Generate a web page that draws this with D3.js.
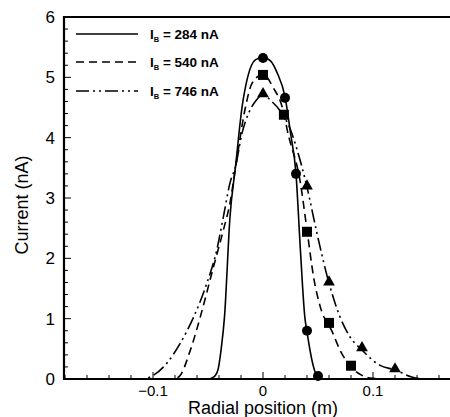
<!DOCTYPE html>
<html>
<head>
<meta charset="utf-8">
<script src="https://cdn.jsdelivr.net/npm/d3@7"></script>
<style>
  body { margin: 0; background: #fff; }
  svg { display: block; font-family: "Liberation Sans", Arial, sans-serif; }
</style>
</head>
<body>
<div class="chart"></div>
<script>
// curve for each beam current (radial position m, current nA)
var curve284 = [[-0.13,0],[-0.05,0],[-0.045,0.03],[-0.041,0.15],[-0.038,0.5],[-0.035,1.03],[-0.03,2.69],
  [-0.025,3.52],[-0.019,4.51],[-0.014,5.0],[-0.007,5.29],[0,5.33],[0.007,5.27],[0.013,5.07],[0.02,4.68],
  [0.025,4.08],[0.03,3.4],[0.034,2.14],[0.038,1.03],[0.04,0.78],[0.045,0.27],[0.049,0.05],[0.055,0],[0.155,0]];
var curve540 = [[-0.125,0],[-0.085,0],[-0.077,0.03],[-0.066,0.48],[-0.057,1.03],[-0.045,1.86],[-0.036,2.47],
  [-0.03,2.92],[-0.025,3.5],[-0.016,4.5],[-0.01,4.9],[0,5.05],[0.009,4.84],[0.019,4.4],[0.022,4.13],
  [0.034,3.25],[0.04,2.47],[0.046,1.69],[0.052,1.2],[0.063,0.78],[0.07,0.48],[0.08,0.2],[0.09,0.06],
  [0.1,0.01],[0.11,0],[0.155,0]];
var curve746 = [[-0.125,0],[-0.108,0],[-0.103,0.03],[-0.087,0.27],[-0.075,0.6],[-0.063,1.03],[-0.051,1.59],
  [-0.042,2.14],[-0.036,2.69],[-0.03,3.25],[-0.025,3.52],[-0.019,4.08],[-0.013,4.41],[-0.007,4.6],[0,4.71],
  [0.008,4.6],[0.015,4.46],[0.025,4.13],[0.031,3.8],[0.04,3.18],[0.049,2.42],[0.06,1.59],[0.07,1.03],
  [0.079,0.7],[0.09,0.48],[0.106,0.23],[0.12,0.15],[0.136,0.03],[0.15,0],[0.155,0]];

// measured points
var pts284 = [[0,5.32],[0.02,4.66],[0.03,3.4],[0.04,0.8],[0.05,0.05]];
var pts540 = [[0,5.04],[0.019,4.38],[0.04,2.44],[0.06,0.93],[0.08,0.22]];
var pts746 = [[0,4.71],[0.04,3.18],[0.06,1.59],[0.09,0.5],[0.12,0.15]];

var seriesNames = ["284", "540", "746"];
var xTicks = [-0.1, 0, 0.1];
var yTicks = [0, 1, 2, 3, 4, 5, 6];

var width = 450, height = 417;
var x = d3.scaleLinear().domain([-0.18, 0.18]).range([65, 461]);
var y = d3.scaleLinear().domain([0, 6]).range([379, 17]);

var svg = d3.select(".chart").append("svg")
    .attr("width", width)
    .attr("height", height);

var line = d3.line()
    .x(function (d) { return x(d[0]); })
    .y(function (d) { return y(d[1]); })
    .curve(d3.curveMonotoneX);

var dashes = ["none", "8,5", "13,4,2,4,2,4"];
var curves = [curve284, curve540, curve746];

curves.forEach(function (c, i) {
    svg.append("path")
        .attr("d", line(c))
        .attr("fill", "none")
        .attr("stroke", "#000")
        .attr("stroke-width", 1.6)
        .attr("stroke-dasharray", dashes[i]);
});

// markers
svg.selectAll(".circ").data(pts284).enter().append("circle")
    .attr("cx", function (d) { return x(d[0]); })
    .attr("cy", function (d) { return y(d[1]); })
    .attr("r", 5)
    .attr("fill", "#000");
svg.selectAll(".sq").data(pts540).enter().append("rect")
    .attr("x", function (d) { return x(d[0]) - 5; })
    .attr("y", function (d) { return y(d[1]) - 5; })
    .attr("width", 10)
    .attr("height", 10)
    .attr("fill", "#000");
svg.selectAll(".tri").data(pts746).enter().append("path")
    .attr("d", d3.symbol().type(d3.symbolTriangle).size(60))
    .attr("transform", function (d) { return "translate(" + x(d[0]) + "," + (y(d[1]) - 1) + ")"; })
    .attr("fill", "#000");

// axes: frame lines
svg.append("line").attr("x1", 63).attr("x2", width).attr("y1", 379).attr("y2", 379)
    .attr("stroke", "#000").attr("stroke-width", 2.2);
svg.append("line").attr("x1", 63).attr("x2", width).attr("y1", 17).attr("y2", 17)
    .attr("stroke", "#000").attr("stroke-width", 2.2);
svg.append("line").attr("x1", 64).attr("x2", 64).attr("y1", 16).attr("y2", 380)
    .attr("stroke", "#000").attr("stroke-width", 2.2);

// x ticks (inward)
var xMinor = d3.range(-0.18, 0.181, 0.02);
svg.selectAll(".xt").data(xMinor).enter().append("line")
    .attr("x1", function (d) { return x(d); })
    .attr("x2", function (d) { return x(d); })
    .attr("y1", 379)
    .attr("y2", function (d) { return Math.abs(Math.round(d * 100) % 10) === 0 ? 372 : 375; })
    .attr("stroke", "#000").attr("stroke-width", 1);
svg.selectAll(".xl").data(xTicks).enter().append("text")
    .attr("x", function (d) { return x(d); })
    .attr("y", 396)
    .attr("text-anchor", "middle")
    .attr("font-size", 15)
    .text(function (d) { return d === 0 ? "0" : d3.format("")(d); });

// y ticks (inward)
var yMinor = d3.range(0, 6.01, 0.2);
svg.selectAll(".yt").data(yMinor).enter().append("line")
    .attr("x1", 64)
    .attr("x2", function (d) { return Math.abs(d - Math.round(d)) < 0.01 ? 71 : 68; })
    .attr("y1", function (d) { return y(d); })
    .attr("y2", function (d) { return y(d); })
    .attr("stroke", "#000").attr("stroke-width", 1);
svg.selectAll(".yl").data(yTicks).enter().append("text")
    .attr("x", 55)
    .attr("y", function (d) { return y(d) + 6; })
    .attr("text-anchor", "end")
    .attr("font-size", 17)
    .text(function (d) { return d; });

// axis titles
svg.append("text")
    .attr("x", 263).attr("y", 414)
    .attr("text-anchor", "middle")
    .attr("font-size", 18)
    .text("Radial position (m)");
svg.append("text")
    .attr("transform", "translate(28,205) rotate(-90)")
    .attr("text-anchor", "middle")
    .attr("font-size", 18)
    .text("Current (nA)");

// legend
var legY = [34, 62, 91];
seriesNames.forEach(function (s, i) {
    svg.append("line")
        .attr("x1", 76).attr("x2", 138)
        .attr("y1", legY[i]).attr("y2", legY[i])
        .attr("stroke", "#000").attr("stroke-width", 1.3)
        .attr("stroke-dasharray", dashes[i]);
    var t = svg.append("text")
        .attr("x", 150).attr("y", legY[i] + 5)
        .attr("font-size", 13.5)
        .attr("font-weight", "bold");
    t.append("tspan").text("I");
    t.append("tspan").attr("font-size", 7.5).attr("dy", 3).text("B");
    t.append("tspan").attr("dy", -3).text(" = " + s + " nA");
});
</script>
</body>
</html>
